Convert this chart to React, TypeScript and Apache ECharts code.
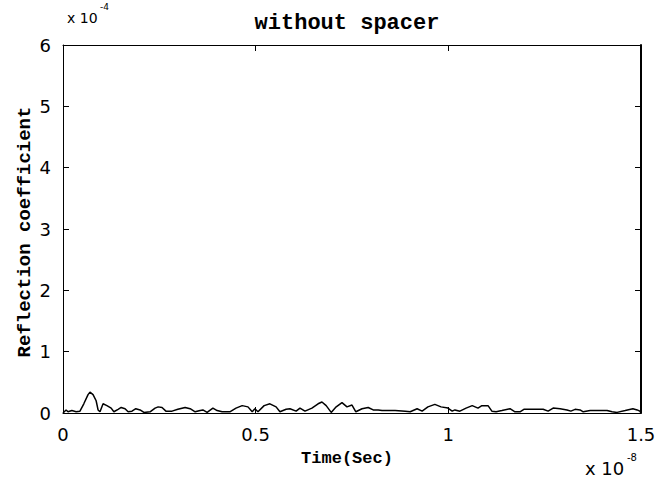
import React, { useEffect, useRef } from "react";
import * as echarts from "echarts";

// time in units of 1e-8 s
const timeValues = [
  0, 0.008, 0.013, 0.023, 0.034, 0.044, 0.054, 0.065, 0.07, 0.078, 0.086, 0.091, 0.096,
  0.104, 0.114, 0.125, 0.132, 0.143, 0.151, 0.161, 0.169, 0.179, 0.189, 0.2, 0.21,
  0.226, 0.239, 0.247, 0.257, 0.267, 0.283, 0.298, 0.317, 0.33, 0.343, 0.356, 0.363,
  0.374, 0.389, 0.4, 0.413, 0.433, 0.449, 0.465, 0.48, 0.491, 0.498, 0.506, 0.522,
  0.537, 0.553, 0.563, 0.579, 0.589, 0.605, 0.615, 0.628, 0.646, 0.662, 0.672, 0.683,
  0.696, 0.709, 0.724, 0.737, 0.75, 0.76, 0.776, 0.792, 0.805, 0.818, 0.828, 0.862,
  0.888, 0.901, 0.919, 0.932, 0.947, 0.965, 0.981, 0.999, 1.01, 1.017, 1.03, 1.046,
  1.062, 1.077, 1.087, 1.103, 1.113, 1.124, 1.139, 1.16, 1.173, 1.186, 1.196, 1.246,
  1.259, 1.272, 1.29, 1.308, 1.318, 1.329, 1.342, 1.35, 1.368, 1.412, 1.425, 1.438,
  1.459, 1.479, 1.49, 1.497, 1.5,
];
// reflection coefficient in units of 1e-4
const reflectionValues = [
  0, 0.05, 0.02, 0.04, 0.02, 0.03, 0.15, 0.3, 0.34, 0.3, 0.2, 0.05, 0.02,
  0.15, 0.12, 0.08, 0.02, 0.06, 0.09, 0.07, 0.02, 0.03, 0.07, 0.05, 0.01,
  0.02, 0.08, 0.1, 0.09, 0.03, 0.03, 0.06, 0.09, 0.07, 0.02, 0.04, 0.05,
  0.01, 0.08, 0.04, 0.02, 0.02, 0.08, 0.12, 0.1, 0.02, 0.07, 0.02, 0.12,
  0.15, 0.1, 0.02, 0.06, 0.07, 0.03, 0.08, 0.03, 0.08, 0.15, 0.18, 0.12,
  0.01, 0.1, 0.17, 0.1, 0.13, 0.02, 0.07, 0.09, 0.05, 0.05, 0.04, 0.04,
  0.03, 0.02, 0.07, 0.03, 0.1, 0.14, 0.1, 0.08, 0.03, 0.05, 0.03, 0.08,
  0.12, 0.08, 0.12, 0.12, 0.03, 0.02, 0.04, 0.07, 0.02, 0.02, 0.06, 0.06,
  0.03, 0.08, 0.07, 0.05, 0.03, 0.06, 0.05, 0.02, 0.04, 0.04, 0.02, 0.01,
  0.04, 0.07, 0.05, 0.03, 0,
];

const xTickLabels: Record<string, string> = { "0": "0", "0.5": "0.5", "1": "1", "1.5": "1.5" };
const titleText = "without spacer";
const xName = "Time(Sec)";
const yName = "Reflection coefficient";

export default function App() {
  const ref = useRef<HTMLDivElement>(null);
  useEffect(() => {
    if (!ref.current) return;
    const chart = echarts.init(ref.current, null, { renderer: "svg" });
    const data = timeValues.map((t, i) => [t, reflectionValues[i]]);
    const tickFont = { fontFamily: "DejaVu Sans", fontSize: 18, color: "#000" };
    const baseAxisLine = { show: true, onZero: false, lineStyle: { color: "#000", width: 1 } };
    const tickStyle = { show: true, inside: true, length: 6, lineStyle: { color: "#000", width: 1 } };
    chart.setOption({
      animation: false,
      backgroundColor: "#fff",
      grid: { left: 63, right: 25, top: 45, bottom: 71, show: false },
      xAxis: [
        {
          type: "value", min: 0, max: 1.5, interval: 0.5, position: "bottom",
          axisLine: baseAxisLine, axisTick: tickStyle, splitLine: { show: false },
          axisLabel: { ...tickFont, margin: 12, formatter: (v: number) => xTickLabels[String(v)] ?? String(v) },
        },
        {
          type: "value", min: 0, max: 1.5, interval: 0.5, position: "top",
          axisLine: baseAxisLine, axisTick: tickStyle, splitLine: { show: false },
          axisLabel: { show: false },
        },
      ],
      yAxis: [
        {
          type: "value", min: 0, max: 6, interval: 1, position: "left",
          axisLine: baseAxisLine, axisTick: tickStyle, splitLine: { show: false },
          axisLabel: { ...tickFont, margin: 12 },
        },
        {
          type: "value", min: 0, max: 6, interval: 1, position: "right",
          axisLine: { show: true, onZero: false, lineStyle: { color: "#000", width: 2 } },
          axisTick: tickStyle, splitLine: { show: false },
          axisLabel: { show: false },
        },
      ],
      series: [
        {
          type: "line", xAxisIndex: 0, yAxisIndex: 0, data, showSymbol: false,
          lineStyle: { color: "#000", width: 1.5 },
        },
      ],
      graphic: [
        {
          type: "text", x: 347, y: 23,
          style: { text: titleText, fontFamily: "Liberation Mono", fontWeight: "bold", fontSize: 22, fill: "#000", align: "center", verticalAlign: "middle" },
        },
        {
          type: "text", x: 25, y: 232, rotation: Math.PI / 2,
          style: { text: yName, fontFamily: "Liberation Mono", fontWeight: "bold", fontSize: 19, fill: "#000", align: "center", verticalAlign: "middle" },
        },
        {
          type: "text", x: 347, y: 458,
          style: { text: xName, fontFamily: "Liberation Mono", fontWeight: "bold", fontSize: 17, fill: "#000", align: "center", verticalAlign: "middle" },
        },
        {
          type: "text", x: 67, y: 18,
          style: { text: "x 10", fontFamily: "DejaVu Sans", fontSize: 14, fill: "#000", align: "left", verticalAlign: "middle" },
        },
        {
          type: "text", x: 100, y: 7,
          style: { text: "-4", fontFamily: "DejaVu Sans", fontSize: 9, fill: "#000", align: "left", verticalAlign: "middle" },
        },
        {
          type: "text", x: 585, y: 468,
          style: { text: "x 10", fontFamily: "DejaVu Sans", fontSize: 18, fill: "#000", align: "left", verticalAlign: "middle" },
        },
        {
          type: "text", x: 627, y: 457,
          style: { text: "-8", fontFamily: "DejaVu Sans", fontSize: 10, fill: "#000", align: "left", verticalAlign: "middle" },
        },
      ],
    });
    return () => chart.dispose();
  }, []);
  return <div ref={ref} style={{ position: "absolute", left: 0, top: 0, width: 666, height: 484 }} />;
}
